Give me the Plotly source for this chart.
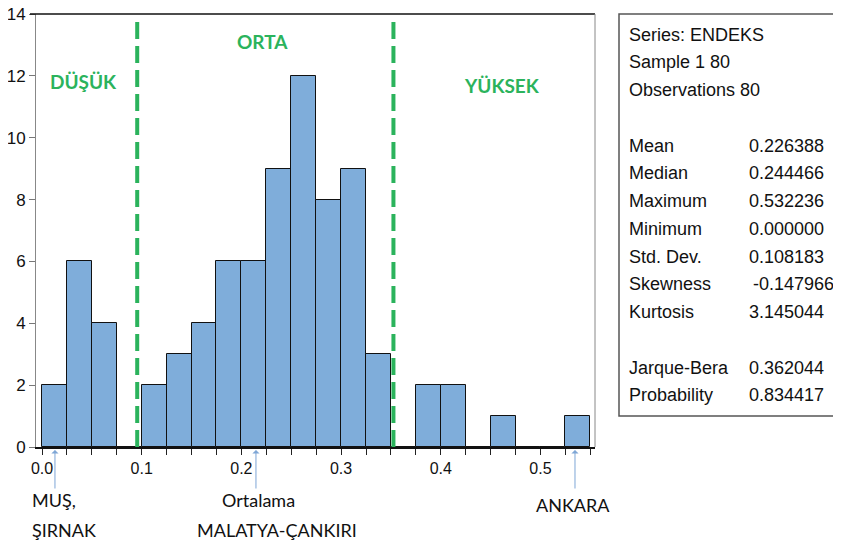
import plotly.graph_objects as go

# ---- data ----
bin_left = [0.0, 0.025, 0.05, 0.075, 0.1, 0.125, 0.15, 0.175, 0.2, 0.225, 0.25,
            0.275, 0.3, 0.325, 0.35, 0.375, 0.4, 0.425, 0.45, 0.475, 0.5, 0.525]
counts = [2, 6, 4, 0, 2, 3, 4, 6, 6, 9, 12, 8, 9, 3, 0, 2, 2, 0, 1, 0, 0, 1]
bin_width = 0.025
cut_points = [0.0955, 0.3525]
region_labels = ["DÜŞÜK", "ORTA", "YÜKSEK"]
x_tick_vals = [round(i * 0.025, 3) for i in range(23)]
y_tick_vals = [0, 2, 4, 6, 8, 10, 12, 14]
stat_names = ["Mean", "Median", "Maximum", "Minimum", "Std. Dev.", "Skewness", "Kurtosis",
              "Jarque-Bera", "Probability"]
stat_values = ["0.226388", "0.244466", "0.532236", "0.000000", "0.108183", "-0.147966",
               "3.145044", "0.362044", "0.834417"]
header_lines = ["Series: ENDEKS", "Sample 1 80", "Observations 80"]
marker_x = [0.013, 0.2146, 0.5346]
marker_lines = [["MUŞ,", "ŞIRNAK"], ["Ortalama", "MALATYA-ÇANKIRI"], ["ANKARA"]]

# ---- geometry (page pixels; the figure sits at an 8px body offset) ----
OFF = 8
W, H = 841 - OFF, 547 - OFF
L, R, T, B = 36, 595, 14, 447
X0, X1 = -0.00602, 0.55467

def px(xp):
    return (xp - L) / (R - L)

def py(yp):
    return (B - yp) / (B - T)

GREEN = "#2bb35c"
centers = [b + bin_width / 2 for b in bin_left]

fig = go.Figure()
fig.add_trace(go.Bar(
    x=centers, y=counts, width=bin_width,
    marker=dict(color="#7fadda", line=dict(color="#111111", width=1)),
    hoverinfo="skip", showlegend=False,
))

ticktext = []
for v in x_tick_vals:
    if abs(v * 10 - round(v * 10)) < 1e-9:
        ticktext.append(f"{v:.1f}")
    else:
        ticktext.append("")

fig.update_layout(
    width=W, height=H,
    margin=dict(l=L - OFF, r=841 - R, t=T - OFF, b=547 - B),
    paper_bgcolor="white", plot_bgcolor="white",
    bargap=0,
    xaxis=dict(range=[X0, X1], tickvals=x_tick_vals, ticktext=ticktext, automargin=False,
               ticks="outside", ticklen=6, tickcolor="#222", showgrid=False,
               zeroline=False, showline=True, linecolor="#111", linewidth=2,
               tickfont=dict(family="Liberation Sans, Arial", size=16, color="#111")),
    yaxis=dict(range=[0, 14], tickvals=y_tick_vals, ticks="outside", ticklen=6, automargin=False,
               tickcolor="#777", showgrid=False, zeroline=False, showline=True,
               linecolor="#888", linewidth=1, ticklabeloverflow="allow",
               tickfont=dict(family="Liberation Sans, Arial", size=17, color="#111")),
    font=dict(family="Lato, Liberation Sans", color="#111"),
)

shapes = []
shapes.append(dict(type="line", xref="paper", yref="paper", x0=px(30), x1=1, y0=1, y1=1,
                   line=dict(color="#111", width=1.5)))
shapes.append(dict(type="line", xref="paper", yref="paper", x0=1, x1=1, y0=0, y1=1,
                   line=dict(color="#888", width=1)))
for c in cut_points:
    shapes.append(dict(type="line", xref="x", yref="paper", x0=c, x1=c, y0=0, y1=py(20),
                       line=dict(color=GREEN, width=4, dash="17px,7px")))
shapes.append(dict(type="rect", xref="paper", yref="paper", x0=px(619), x1=px(850),
                   y0=py(416), y1=1, line=dict(color="#555", width=1.5)))
fig.update_layout(shapes=shapes)

ann = []
region_pos = [(83, 81), (262, 42), (502, 85)]
for lab, (xp, yp) in zip(region_labels, region_pos):
    ann.append(dict(text=f"<b>{lab}</b>", xref="paper", yref="paper", x=px(xp), y=py(yp),
                    xanchor="center", yanchor="middle", showarrow=False,
                    font=dict(family="Lato, Open Sans", size=19, color=GREEN)))

header_y = [35, 62, 90]
for t, yp in zip(header_lines, header_y):
    ann.append(dict(text=t, xref="paper", yref="paper", x=px(627), y=py(yp),
                    xanchor="left", yanchor="middle", showarrow=False,
                    font=dict(family="Liberation Sans, Arial", size=18, color="#111")))
stat_y = [146, 173, 201, 229, 257, 284, 312, 368, 395]
for n, v, yp in zip(stat_names, stat_values, stat_y):
    ann.append(dict(text=n, xref="paper", yref="paper", x=px(627), y=py(yp),
                    xanchor="left", yanchor="middle", showarrow=False,
                    font=dict(family="Liberation Sans, Arial", size=18, color="#111")))
    vx = 751 if v.startswith("-") else 747
    ann.append(dict(text=v, xref="paper", yref="paper", x=px(vx), y=py(yp),
                    xanchor="left", yanchor="middle", showarrow=False,
                    font=dict(family="Liberation Sans, Arial", size=18, color="#111")))

label_pos = [(30, "left", [500, 530]), (277, "center", [500, 530]), (573, "center", [505])]
for xv, lines, (lx, anch, ys) in zip(marker_x, marker_lines, label_pos):
    ann.append(dict(text="", x=xv, y=py(450), xref="x", yref="paper",
                    showarrow=True, arrowhead=1, arrowsize=1.2, arrowwidth=1,
                    arrowcolor="#7ea6d6", ax=0, ay=40, axref="pixel", ayref="pixel"))
    for i, (ln, ly) in enumerate(zip(lines, ys)):
        cx = lx
        if anch == "center" and i == 0 and len(lines) > 1:
            cx = 258
        ann.append(dict(text=ln, xref="paper", yref="paper", x=px(cx), y=py(ly),
                        xanchor=anch, yanchor="middle", showarrow=False,
                        font=dict(family="Lato, Open Sans", size=18, color="#111")))

fig.update_layout(annotations=ann)
fig.write_html("out.html")
